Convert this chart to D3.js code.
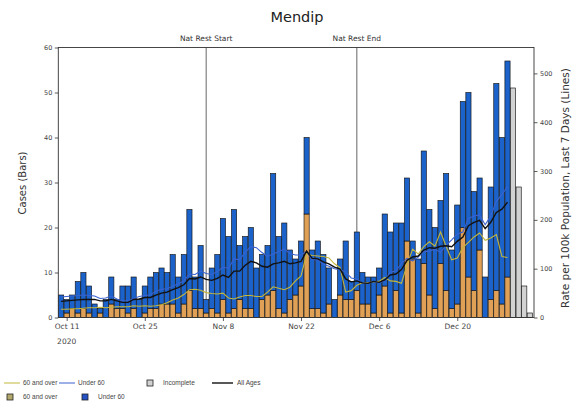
<!DOCTYPE html>
<html><head><meta charset="utf-8">
<script src="https://cdn.jsdelivr.net/npm/d3@7"></script>
<style>
body{margin:0;background:#fff}
svg{display:block}
text{font-family:"DejaVu Sans",sans-serif}
text.leg{font-family:"Liberation Sans",sans-serif}
</style>
</head><body>
<svg id="c" width="574" height="408"></svg>
<script>
// ---------- data ----------
const startDate = "2020-10-10";
// daily cases, complete days (Oct 10 .. Dec 29)
const over60 = [0,1,2,1,2,1,0,1,0,3, 2,2,1,2,0,1,2,2,3,3, 3,1,3,6,2,2,1,2,1,4,
  1,2,4,2,2,0,4,5,6,2, 1,4,5,7,23,2,2,1,3,0, 5,4,4,6,3,3,1,5,7,1,
  6,1,17,13,1,12,5,2,12,6, 2,3,20,9,6,15,0,4,6,3, 9];
const under60 = [5,3,3,7,8,6,3,1,4,6, 2,5,6,7,4,6,7,8,8,7, 11,8,11,18,7,14,3,9,13,18,
  17,22,12,16,18,11,10,11,26,16, 20,11,8,10,17,13,15,13,8,4, 8,13,4,13,7,6,8,6,16,18,
  15,20,14,4,12,25,19,18,14,26, 13,22,28,41,22,16,9,25,46,37, 48];
// incomplete days (Dec 30 .. Jan 2), all ages
const incomplete = [51,29,7,1];
// 7-day rate per 100k (lines), Oct 10 .. Dec 29
const rateAll = [33,34,35,36,37,37, 37,34,34,37,34,31,31,37,38,41, 41,46,50,52,57,61,67,80,79,83,
  78,76,80,87,82,95,95,107,115,112, 105,103,110,112,115,110,112,115,136,121,
  120,114,110,103,99,79,73,75,71,70, 74,72,77,87,89,98,117,124,126,138,
  143,142,146,147,145,156,165,188,195,199, 182,195,215,222,236];
const rateUnder60 = [42,43,44,45,46,45, 44,39,40,44,38,34,34,39,43,45, 46,54,58,59,64,69,75,89,88,95,
  90,88,94,103,101,120,118,134,145,143, 133,125,130,135,140,131,128,128,135,119,
  118,109,105,100,98,93,81,79,71,69, 74,71,75,93,95,111,121,116,124,135,
  136,140,133,148,159,171,175,203,208,210, 190,208,238,252,268];
const rateOver60 = [17,17,18,18,19,20, 20,21,20,21,22,22,22,24,23,24,23,24,26,
  30,36,40,47,57,58,56,51,49,48, 50,40,38,42,45,45,43,43,52,63,
  60,57,62,75,85,130,127,126,125,122, 110,102,52,55,66,71,71,73,74,82,
  75,74,70,108,140,130,145,155,146,175, 146,118,122,143,154,165,173,158,163,170, 125,123];
const events = [{date:"2020-11-05", label:"Nat Rest Start"},{date:"2020-12-02", label:"Nat Rest End"}];
const xTickDates = ["2020-10-11","2020-10-25","2020-11-08","2020-11-22","2020-12-06","2020-12-20"];
const yTicks = [0,10,20,30,40,50,60];
const rTicks = [0,100,200,300,400,500];

// ---------- layout ----------
const W = 574, H = 408;
const L = 58.3, R = 534, T = 47.5, B = 317.5;
const C = {over:"#e0a056", under:"#1b62cb", inc:"#d2d2d2", lAll:"#111", lUnder:"#3a62d0", lOver:"#c2b63c",
           legOver:"#b3a86c", legUnder:"#2452c4"};

const parse = d3.utcParse("%Y-%m-%d");
const start = parse(startDate);
const nDays = over60.length + incomplete.length;
const dates = d3.utcDay.range(start, d3.utcDay.offset(start, nDays));
const lastDay = dates[dates.length-1];

const x = d3.scaleUtc()
  .domain([d3.utcHour.offset(start, -12), d3.utcHour.offset(lastDay, 18)])
  .range([L, R]);
const y = d3.scaleLinear().domain([0, 60]).range([B, T]);
const yr = d3.scaleLinear().domain([0, 553]).range([B, T]);
const bw = (x(dates[1]) - x(dates[0])) * 0.93;

const svg = d3.select("#c");
svg.append("rect").attr("width", W).attr("height", H).attr("fill", "#fff");

// event lines (behind bars)
const evG = svg.append("g");
events.forEach(e => {
  const xe = x(parse(e.date));
  evG.append("line").attr("x1", xe).attr("x2", xe).attr("y1", T).attr("y2", B)
    .attr("stroke", "#666").attr("stroke-width", 1);
  evG.append("text").attr("x", xe).attr("y", 41).attr("text-anchor", "middle")
    .attr("font-size", 7.5).attr("fill", "#333").text(e.label);
});

// stacked bars
const complete = over60.map((o, i) => ({d: dates[i], o, u: under60[i]}));
const barG = svg.append("g").attr("stroke", "#151515").attr("stroke-width", 0.65);
barG.selectAll(".bo").data(complete).join("rect")
  .attr("x", d => x(d.d) - bw/2).attr("width", bw)
  .attr("y", d => y(d.o)).attr("height", d => y(0) - y(d.o))
  .attr("fill", C.over);
barG.selectAll(".bu").data(complete).join("rect")
  .attr("x", d => x(d.d) - bw/2).attr("width", bw)
  .attr("y", d => y(d.o + d.u)).attr("height", d => y(d.o) - y(d.o + d.u))
  .attr("fill", C.under);
const incData = incomplete.map((v, i) => ({d: dates[over60.length + i], v}));
barG.selectAll(".bi").data(incData).join("rect")
  .attr("x", d => x(d.d) - bw/2).attr("width", bw)
  .attr("y", d => y(d.v)).attr("height", d => y(0) - y(d.v))
  .attr("fill", C.inc);

// rate lines
const line = d3.line().x((v, i) => x(dates[i])).y(v => yr(v));
svg.append("path").attr("d", line(rateOver60)).attr("fill", "none").attr("stroke", C.lOver).attr("stroke-width", 1.1);
svg.append("path").attr("d", line(rateUnder60)).attr("fill", "none").attr("stroke", C.lUnder).attr("stroke-width", 1.1);
svg.append("path").attr("d", line(rateAll)).attr("fill", "none").attr("stroke", C.lAll).attr("stroke-width", 1.4);

// frame
svg.append("rect").attr("x", L).attr("y", T).attr("width", R - L).attr("height", B - T)
  .attr("fill", "none").attr("stroke", "#333").attr("stroke-width", 0.9);

function styleAxis(g, fs) {
  g.select(".domain").remove();
  g.selectAll(".tick line").attr("stroke", "#333").attr("stroke-width", 0.8);
  g.selectAll(".tick text").attr("fill", "#444").attr("font-size", fs);
}
svg.append("g").attr("transform", `translate(${L},0)`)
  .call(d3.axisLeft(y).tickValues(yTicks).tickSize(3.5).tickPadding(2.5))
  .call(g => styleAxis(g, 6.5));
svg.append("g").attr("transform", `translate(${R},0)`)
  .call(d3.axisRight(yr).tickValues(rTicks).tickSize(3.5).tickPadding(2.5))
  .call(g => styleAxis(g, 6.5));
svg.append("g").attr("transform", `translate(0,${B})`)
  .call(d3.axisBottom(x).tickValues(xTickDates.map(parse)).tickFormat(d3.utcFormat("%b %-d")).tickSize(3.5).tickPadding(3))
  .call(g => styleAxis(g, 7.5));
svg.append("text").attr("x", x(parse(xTickDates[0]))).attr("y", 344)
  .attr("text-anchor", "middle").attr("font-size", 7.5).attr("fill", "#444").text("2020");

// titles
svg.append("text").attr("x", 297).attr("y", 22).attr("text-anchor", "middle")
  .attr("font-size", 14.5).attr("fill", "#222").text("Mendip");
svg.append("text").attr("transform", "translate(26,183) rotate(-90)").attr("text-anchor", "middle")
  .attr("font-size", 10).attr("fill", "#333").text("Cases (Bars)");
svg.append("text").attr("transform", "translate(569,188) rotate(-90)").attr("text-anchor", "middle")
  .attr("font-size", 10.5).attr("fill", "#333").text("Rate per 100k Population, Last 7 Days (Lines)");

// legend
const lg = svg.append("g");
function legLine(x1, x2, yy, col, w) {
  lg.append("line").attr("x1", x1).attr("x2", x2).attr("y1", yy).attr("y2", yy).attr("stroke", col).attr("stroke-width", w);
}
function legBox(x0, yy, col) {
  lg.append("rect").attr("x", x0).attr("y", yy - 3).attr("width", 6).attr("height", 6)
    .attr("fill", col).attr("stroke", "#222").attr("stroke-width", 0.8);
}
function legText(x0, yy, t) {
  lg.append("text").attr("class", "leg").attr("x", x0).attr("y", yy + 2.3)
    .attr("font-size", 6.5).attr("fill", "#444").text(t);
}
const r1 = 383, r2 = 397;
legLine(4, 20, r1, C.lOver, 1); legText(23, r1, "60 and over");
legLine(59, 75, r1, C.lUnder, 1); legText(78, r1, "Under 60");
legBox(147, r1, C.inc); legText(163, r1, "Incomplete");
legLine(212, 233, r1, C.lAll, 1.4); legText(237, r1, "All Ages");
legBox(7, r2, C.legOver); legText(23, r2, "60 and over");
legBox(82, r2, C.legUnder); legText(98, r2, "Under 60");
</script>
</body></html>
